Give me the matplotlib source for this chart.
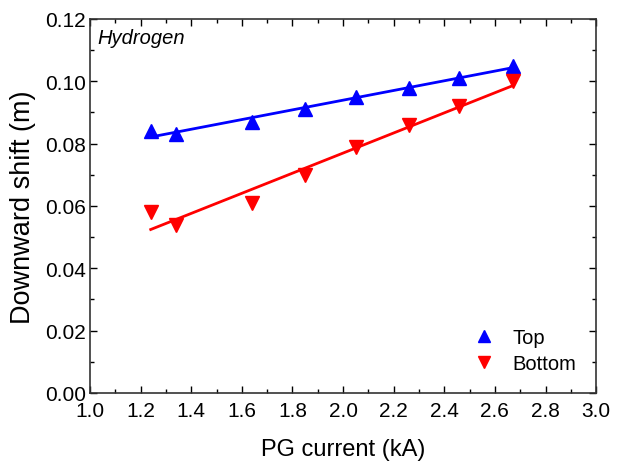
import numpy as np
import matplotlib
matplotlib.use('Agg')
import matplotlib.pyplot as plt
from matplotlib.ticker import MultipleLocator

plt.rcParams['font.family'] = ['Liberation Sans', 'DejaVu Sans']

# PG current (kA)
current = [1.24, 1.34, 1.64, 1.85, 2.05, 2.26, 2.46, 2.67]
# downward shift (m)
top = [0.084, 0.083, 0.087, 0.091, 0.095, 0.098, 0.101, 0.105]
bottom = [0.058, 0.054, 0.061, 0.070, 0.079, 0.086, 0.092, 0.100]

fig = plt.figure(figsize=(6.18, 4.64), dpi=100)
ax = fig.add_axes([0.1456, 0.1509, 0.819, 0.806])

x = np.array(current)
xs = np.array([x.min(), x.max()])
for y, c, m, lab in [(top, 'blue', '^', 'Top'), (bottom, 'red', 'v', 'Bottom')]:
    ax.plot(x, y, m, color=c, ms=10, ls='none', label=lab)
    p = np.polyfit(x, y, 1)  # linear fit
    ax.plot(xs, np.polyval(p, xs), color=c, lw=2)

ax.set_xlim(1.0, 3.0)
ax.set_ylim(0, 0.12)
ax.xaxis.set_major_locator(MultipleLocator(0.2))
ax.xaxis.set_minor_locator(MultipleLocator(0.1))
ax.yaxis.set_major_locator(MultipleLocator(0.02))
ax.yaxis.set_minor_locator(MultipleLocator(0.01))
ax.xaxis.set_major_formatter(plt.FormatStrFormatter('%.1f'))
ax.yaxis.set_major_formatter(plt.FormatStrFormatter('%.2f'))
ax.tick_params(which='both', direction='in', top=True, right=True, labelsize=15, width=1)
ax.tick_params(which='major', length=5)
ax.tick_params(which='minor', length=3)
ax.tick_params(axis='x', pad=6)
ax.tick_params(axis='y', pad=3)
for s in ax.spines.values():
    s.set_linewidth(1.2)
    s.set_color('#333333')

ax.set_xlabel('PG current (kA)', fontsize=17, labelpad=13)
ax.set_ylabel('Downward shift (m)', fontsize=19.5, labelpad=6)
ax.text(0.015, 0.975, 'Hydrogen', transform=ax.transAxes, style='italic',
        fontsize=14.5, va='top', ha='left')
ax.legend(loc='lower right', frameon=False, fontsize=14.5, handletextpad=0.4,
          borderaxespad=0.6, labelspacing=0.35, markerscale=0.9)

fig.savefig('out.png', dpi=100)
